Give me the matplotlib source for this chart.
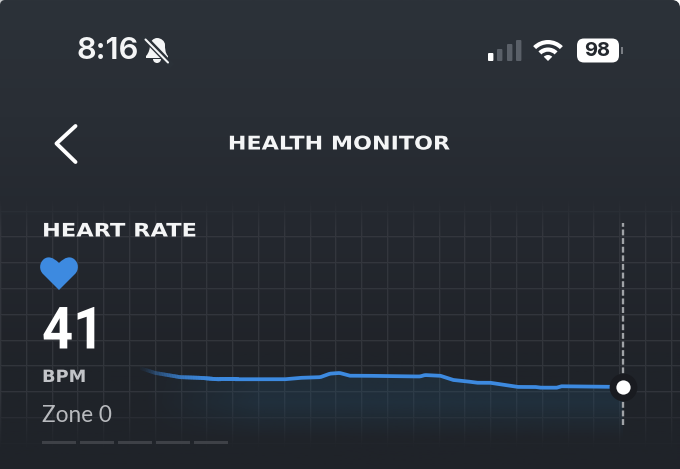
import numpy as np
import matplotlib
matplotlib.use('Agg')
import matplotlib.pyplot as plt
from matplotlib.patches import Wedge, FancyBboxPatch, PathPatch, Rectangle
from matplotlib.patheffects import AbstractPathEffect
from matplotlib.path import Path
from matplotlib.collections import LineCollection
from matplotlib.colors import LinearSegmentedColormap, to_rgb, to_rgba
from matplotlib.transforms import Affine2D

# heart rate trace
minutes = [0, 1.9, 5, 7.5, 9.7, 18, 19.9, 22.4, 23.6, 24.8, 26.1, 28, 33.5, 34.8, 35.4,
           37.3, 38.9, 40.6, 41.9, 43.5, 47, 49.1, 49.8, 51.8, 52.3, 60]
bpm = [43.7, 43.0, 42.4, 42.3, 42.1, 42.1, 42.3, 42.4, 42.9, 43.0, 42.6, 42.6, 42.5, 42.5, 42.7,
       42.6, 42.0, 41.8, 41.6, 41.6, 41.0, 41.0, 40.9, 40.9, 41.1, 41.0]

title = 'HEALTH MONITOR'
metric = 'HEART RATE'
current = '41'
unit = 'BPM'
zone = 'Zone 0'
clock = '8:16'
battery = '98'

W, H = 680, 469
BLUE = '#3d8ae0'
TXT = '#f4f5f6'
M, L, C, Z = Path.MOVETO, Path.LINETO, Path.CURVE4, Path.CLOSEPOLY


# no letter spacing in matplotlib, so the words get stretched around an anchor x
class StretchX(AbstractPathEffect):
    def __init__(self, x0, fx):
        super().__init__()
        self.x0 = x0
        self.fx = fx

    def draw_path(self, renderer, gc, tpath, affine, rgbFace=None):
        stretch = Affine2D().translate(-self.x0, 0).scale(self.fx, 1).translate(self.x0, 0)
        renderer.draw_path(gc, tpath, affine + stretch, rgbFace)


fig = plt.figure(figsize=(W / 100, H / 100), dpi=100)
ax = fig.add_axes([0, 0, 1, 1])

# background
bg_cmap = LinearSegmentedColormap.from_list('bg', ['#2c3239', '#292e35', '#24282f', '#202329', '#1f2329'])
ax.imshow(np.linspace(0, 1, 256)[:, None], extent=[0, W, H, 0], cmap=bg_cmap, aspect='auto', zorder=0)

# grid as an image so that it can fade at top and bottom
grid_x = np.arange(0.4, W, 25.8)
grid_y = np.arange(211, 460, 25.8)
mask = np.zeros((H, W))
for gx in grid_x:
    i = int(gx)
    mask[:, i] = 1
    if i + 1 < W:
        mask[:, i + 1] = np.maximum(mask[:, i + 1], 0.35)
for gy in grid_y:
    j = int(gy)
    mask[j, :] = 1
    mask[j + 1, :] = np.maximum(mask[j + 1, :], 0.35)
rows = np.arange(H)
fade = np.clip((rows - 198) / 35, 0, 1) * np.clip((450 - rows) / 60, 0, 1)
grid_img = np.zeros((H, W, 4))
grid_img[..., :3] = to_rgb('#3a3d44')
grid_img[..., 3] = mask * fade[:, None] * 0.7
ax.imshow(grid_img, extent=[0, W, H, 0], aspect='auto', interpolation='nearest', zorder=1)
ax.set_xlim(0, W)
ax.set_ylim(H, 0)
ax.axis('off')

# rounded corners of the screenshot
corner_r = Path([(W - 8, 0), (W - 3, 0), (W, 3), (W, 8), (W, 0), (W - 8, 0)], [M, C, C, C, L, Z])
corner_l = Path([(5, 0), (2, 0), (0, 2), (0, 5), (0, 0), (5, 0)], [M, C, C, C, L, Z])
ax.add_patch(PathPatch(corner_r, facecolor='white', lw=0, zorder=1))
ax.add_patch(PathPatch(corner_l, facecolor='#c8cacc', lw=0, zorder=1))

# chart axes: x 140..623 px, y 223..440 px
ax_hr = fig.add_axes([140 / W, 1 - 440 / H, 483 / W, 217 / H])
ax_hr.patch.set_alpha(0)

# area under the line
t = np.array(minutes)
v = np.array(bpm)
grad = np.zeros((64, 128, 4))
grad[..., :3] = to_rgb('#24506e')
a_y = np.concatenate([np.linspace(0.2, 0.28, 30), np.linspace(0.28, 0, 34)])[:, None]
a_x = np.clip(np.linspace(0, 1, 128) / 0.25, 0, 1)[None, :]
grad[..., 3] = a_y * a_x
im = ax_hr.imshow(grad, extent=[0, 60, 33.5, 43.5], aspect='auto', zorder=3, origin='upper')
poly = ax_hr.fill_between(t, v, 33.5, color='none')
im.set_clip_path(poly.get_paths()[0], transform=ax_hr.transData)
ax_hr.set_xlim(0, 60)
ax_hr.set_ylim(33.43, 64.4)
ax_hr.axis('off')

# dashed cursor
ax_hr.plot([60, 60], [35.57, 64.4], color='#a0a3a7', lw=1.7, dashes=(2.5, 1.15), zorder=4, clip_on=False)

# line, fading in at the left
tt = np.interp(np.linspace(0, 60, 300), t, t)
vv = np.interp(tt, t, v)
solid = tt >= 12
ax_hr.plot(tt[solid], vv[solid], color=BLUE, lw=2.7, zorder=5, solid_joinstyle='round')
pts = np.column_stack([tt[~solid], vv[~solid]])
pts = np.vstack([pts, [tt[solid][0], vv[solid][0]]])
segs = np.stack([pts[:-1], pts[1:]], axis=1)
cols = np.tile(to_rgba(BLUE), (len(segs), 1))
cols[:, 3] = np.clip(pts[:-1, 0] / 12, 0.03, 1) ** 1.1
lc = LineCollection(segs, colors=cols, linewidths=2.7, capstyle='projecting', zorder=5)
ax_hr.add_collection(lc)

# current value marker
ax_hr.scatter(minutes[-1:], bpm[-1:], s=400, color='#191b20', zorder=6, clip_on=False, lw=0)
ax_hr.scatter(minutes[-1:], bpm[-1:], s=105, color='white', zorder=7, clip_on=False, lw=0)

# text
ax.text(77, 51, clock, color=TXT, fontsize=22.3, family='Inter', weight='semibold', va='center', ha='left', zorder=8)
t_title = ax.text(339, 144, title, color=TXT, fontsize=13.6, family='DejaVu Sans', weight='bold', va='center', ha='center', zorder=8)
t_title.set_path_effects([StretchX(339, 1.178)])
t_metric = ax.text(42, 231, metric, color=TXT, fontsize=13.4, family='DejaVu Sans', weight='bold', va='center', ha='left', zorder=8)
t_metric.set_path_effects([StretchX(42, 1.21)])
t_now = ax.text(42, 333, current, color='white', fontsize=42, family='Roboto', weight='bold', va='center', ha='left', zorder=8)
t_now.set_path_effects([StretchX(42, 0.93)])
t_unit = ax.text(42, 377, unit, color='#c2c4c8', fontsize=12.2, family='DejaVu Sans', weight='bold', va='center', ha='left', zorder=8)
t_unit.set_path_effects([StretchX(42, 1.05)])
ax.text(42, 416, zone, color='#b8babe', fontsize=16.3, family='Lato', va='center', ha='left', zorder=8)

# zone bar segments
for x0 in [42, 80, 118, 156, 194]:
    ax.add_patch(Rectangle((x0, 441), 34, 3.2, color='#3e4147', lw=0, zorder=8))

# back chevron
ax.plot([75.5, 56.5, 75.5], [126, 143.5, 162], color='white', lw=2.8, solid_capstyle='round', solid_joinstyle='round', zorder=8)

# heart icon
heart = Path(
    [(59, 290), (43, 274), (39, 270), (39, 263), (44, 259), (48, 256), (53, 257), (59, 263),
     (65, 257), (70, 256), (74, 259), (79, 263), (79, 270), (75, 274), (59, 290), (59, 290)],
    [M, L, C, C, C, C, C, C, C, C, C, C, C, C, L, Z])
ax.add_patch(PathPatch(heart, facecolor=BLUE, lw=0, zorder=8))

# muted bell
bell = Path(
    [(146, 56), (149, 53), (150, 48), (150, 45), (150, 41), (154, 38), (157, 38),
     (161, 38), (165, 41), (165, 45), (165, 48), (165, 53), (168, 56), (168, 58), (146, 58), (146, 56)],
    [M, C, C, C, C, C, C, C, C, C, C, C, C, L, L, Z])
ax.add_patch(PathPatch(bell, facecolor=TXT, lw=0, zorder=8))
ax.add_patch(Wedge((157, 59), 4, 0, 180, facecolor=TXT, lw=0, zorder=8))
ax.plot([144, 170], [37, 64], color='#2b3138', lw=4.2, zorder=9)
ax.plot([145.5, 168], [39.5, 62.5], color=TXT, lw=1.5, zorder=10, solid_capstyle='round')

# signal bars
for x0, top, col in [(488, 53, 'white'), (497, 49, '#5a6068'), (507, 44, '#5a6068'), (516, 40, '#5a6068')]:
    ax.add_patch(FancyBboxPatch((x0 + 1, top + 1), 3.4, 61 - top - 2, boxstyle='round,pad=1', facecolor=col, lw=0, zorder=8))

# wifi, y axis is inverted so the wedges are given below the centre
for r, w in [(21, 4.2), (13.5, 4.2), (6, 6)]:
    ax.add_patch(Wedge((548, 61), r, 225, 315, width=w, facecolor='white', lw=0, zorder=8))

# battery
ax.add_patch(FancyBboxPatch((577, 38.5), 42, 24, boxstyle='round,pad=0,rounding_size=7', facecolor='white', lw=0, zorder=8))
ax.add_patch(Rectangle((621, 47), 2, 7, facecolor='#7a7e84', lw=0, zorder=8))
ax.text(597.5, 51, battery, color='#24282e', fontsize=14.5, family='Inter', weight='bold', va='center', ha='center', zorder=9)

fig.savefig('out.png', dpi=100)
